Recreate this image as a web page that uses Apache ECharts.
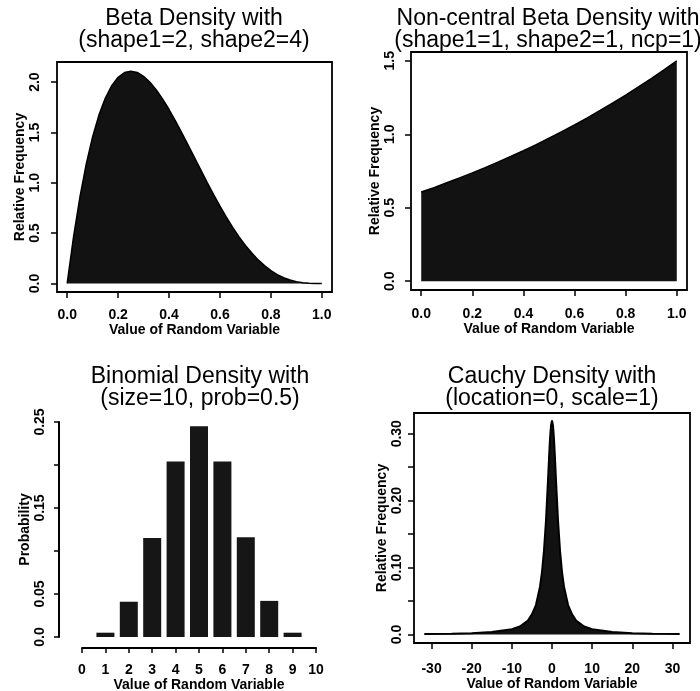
<!DOCTYPE html>
<html><head><meta charset="utf-8">
<script src="https://cdn.jsdelivr.net/npm/echarts@6/dist/echarts.min.js"></script>
<style>html,body{margin:0;padding:0;background:#fff}#c{width:700px;height:691px}</style>
</head><body><div id="c"></div>
<script>
// ---- data ----
const betaX = [0,0.025,0.05,0.075,0.1,0.125,0.15,0.175,0.2,0.225,0.25,0.275,0.3,0.325,0.35,0.375,0.4,0.425,0.45,0.475,0.5,0.525,0.55,0.575,0.6,0.625,0.65,0.675,0.7,0.725,0.75,0.775,0.8,0.825,0.85,0.875,0.9,0.925,0.95,0.975,1.0];
const betaY = [0,0.463,0.857,1.187,1.458,1.675,1.842,1.965,2.048,2.095,2.109,2.096,2.058,1.999,1.922,1.831,1.728,1.616,1.497,1.375,1.250,1.125,1.002,0.883,0.768,0.659,0.557,0.463,0.378,0.302,0.234,0.177,0.128,0.088,0.057,0.034,0.018,0.008,0.002,0.0003,0];
const ncbX = [0,0.05,0.1,0.15,0.2,0.25,0.3,0.35,0.4,0.45,0.5,0.55,0.6,0.65,0.7,0.75,0.8,0.85,0.9,0.95,1.0];
const ncbY = [0.607,0.637,0.670,0.703,0.737,0.773,0.810,0.849,0.889,0.930,0.974,1.018,1.064,1.112,1.162,1.213,1.267,1.322,1.379,1.439,1.500];
const binomX = [0,1,2,3,4,5,6,7,8,9,10];
const binomY = [0,0.005,0.041,0.115,0.204,0.245,0.204,0.116,0.042,0.005,0];
const cauchyX = [-31.8,-25,-20,-15,-10,-8,-6,-5,-4,-3,-2.5,-2,-1.5,-1,-0.75,-0.5,-0.25,0,0.25,0.5,0.75,1,1.5,2,2.5,3,4,5,6,8,10,15,20,25,31.8];
const cauchyY = [0.0008,0.0013,0.002,0.0036,0.008,0.012,0.021,0.030,0.044,0.071,0.093,0.125,0.170,0.230,0.262,0.292,0.312,0.320,0.312,0.292,0.262,0.230,0.170,0.125,0.093,0.071,0.044,0.030,0.021,0.012,0.008,0.0036,0.002,0.0013,0.0008];

// ---- ticks / labels ----
const unitTicks = [0,0.2,0.4,0.6,0.8,1.0];
const unitLabels = ['0.0','0.2','0.4','0.6','0.8','1.0'];
const betaYTicks = [0,0.5,1.0,1.5,2.0];
const betaYLabels = ['0.0','0.5','1.0','1.5','2.0'];
const ncbYTicks = [0,0.5,1.0,1.5];
const ncbYLabels = ['0.0','0.5','1.0','1.5'];
const binomXTicks = [0,1,2,3,4,5,6,7,8,9,10];
const binomXLabels = ['0','1','2','3','4','5','6','7','8','9','10'];
const binomYTicks = [0,0.05,0.10,0.15,0.20,0.25];
const binomYLabelVals = [0,0.05,0.15,0.25];
const binomYLabels = ['0.0','0.05','0.15','0.25'];
const cauchyXTicks = [-30,-20,-10,0,10,20,30];
const cauchyXLabels = ['-30','-20','-10','0','10','20','30'];
const cauchyYTicks = [0,0.05,0.10,0.15,0.20,0.25,0.30];
const cauchyYLabelVals = [0,0.10,0.20,0.30];
const cauchyYLabels = ['0.0','0.10','0.20','0.30'];

const titles = [
  'Beta Density with\n(shape1=2, shape2=4)',
  'Non-central Beta Density with\n(shape1=1, shape2=1, ncp=1)',
  'Binomial Density with\n(size=10, prob=0.5)',
  'Cauchy Density with\n(location=0, scale=1)'
];
const xName = 'Value of Random Variable';
const yNames = ['Relative Frequency','Relative Frequency','Probability','Relative Frequency'];

// ---- helpers ----
const FONT = '"Liberation Sans", Arial, Helvetica, sans-serif';
const zip = (a,b) => a.map((v,i)=>[v,b[i]]);
function lab(vals, labels){ return v => { const i = vals.findIndex(t => Math.abs(t - v) < 1e-9); return i < 0 ? '' : labels[i]; }; }
const tickStyle = {color:'#000', width:1.5};
const labStyle = {fontFamily:FONT, fontSize:14, fontWeight:'bold', color:'#000'};
const nameStyle = {fontFamily:FONT, fontSize:14, fontWeight:'bold', color:'#000'};

function xAx(gi, min, max, ticks, lvals, labels, margin, gap, extra){
  return Object.assign({
    type:'value', gridIndex:gi, min, max, name:xName, nameLocation:'middle', nameGap:gap,
    nameTextStyle:nameStyle, splitLine:{show:false}, axisLine:{show:false, onZero:false},
    axisTick:{show:true, inside:false, length:6, customValues:ticks, lineStyle:tickStyle},
    axisLabel:Object.assign({show:true, customValues:lvals, margin, formatter:lab(lvals,labels)}, labStyle)
  }, extra||{});
}
function yAx(gi, min, max, ticks, lvals, labels, name, margin, gap, extra){
  return Object.assign({
    type:'value', gridIndex:gi, min, max, name, nameLocation:'middle', nameGap:gap, nameRotate:90,
    nameTextStyle:nameStyle, splitLine:{show:false}, axisLine:{show:false, onZero:false},
    axisTick:{show:true, inside:false, length:6, customValues:ticks, lineStyle:tickStyle},
    axisLabel:Object.assign({show:true, rotate:90, customValues:lvals, margin, formatter:lab(lvals,labels)}, labStyle)
  }, extra||{});
}
function box(left, top, width, height, show){
  return {left, top, width, height, show, borderColor:'#000', borderWidth:1.8, backgroundColor:'transparent', containLabel:false, outerBoundsMode:'none'};
}
function titleAt(i, cx, top){
  return {text:titles[i], left:cx, top, textAlign:'center', padding:0, itemGap:0,
    textStyle:{fontFamily:FONT, fontSize:23, fontWeight:'normal', lineHeight:22, color:'#000'}};
}
const fill = '#121212';
function areaSeries(xi, xs, ys, w){
  return {type:'line', xAxisIndex:xi, yAxisIndex:xi, data:zip(xs,ys), symbol:'none', showSymbol:false,
    lineStyle:{color:'#000', width:w}, areaStyle:{color:fill, opacity:1}, silent:true};
}

const option = {
  animation:false,
  backgroundColor:'#fff',
  title:[ titleAt(0,194,8), titleAt(1,548,8), titleAt(2,200,366), titleAt(3,552,366) ],
  grid:[ box(57,62,275,230,true), box(411,52,276,238,true), box(82,422,234,215,false), box(414,413,276,230,true) ],
  xAxis:[
    xAx(0,-0.04,1.04,unitTicks,unitTicks,unitLabels,16,28),
    xAx(1,-0.04,1.04,unitTicks,unitTicks,unitLabels,17,30),
    xAx(2,0,10,binomXTicks,binomXTicks,binomXLabels,15,27,{offset:11, axisLine:{show:true, onZero:false, lineStyle:{color:'#000', width:2}}, axisTick:{show:true, length:5, customValues:binomXTicks, lineStyle:tickStyle}}),
    xAx(3,-34.37,34.37,cauchyXTicks,cauchyXTicks,cauchyXLabels,19,33)
  ],
  yAxis:[
    yAx(0,-0.085,2.20,betaYTicks,betaYTicks,betaYLabels,yNames[0],15,25),
    yAx(1,-0.06,1.56,ncbYTicks,ncbYTicks,ncbYLabels,yNames[1],14,24),
    yAx(2,0,0.25,binomYTicks,binomYLabelVals,binomYLabels,yNames[2],12,22,{offset:23, axisLine:{show:true, onZero:false, lineStyle:{color:'#000', width:2}}, axisTick:{show:true, length:5, customValues:binomYTicks, lineStyle:tickStyle}}),
    yAx(3,-0.0127,0.331,cauchyYTicks,cauchyYLabelVals,cauchyYLabels,yNames[3],10,25)
  ],
  series:[
    areaSeries(0, betaX, betaY, 1.5),
    areaSeries(1, ncbX, ncbY, 1.5),
    {type:'bar', xAxisIndex:2, yAxisIndex:2, data:zip(binomX,binomY), barWidth:18, itemStyle:{color:'#161616'}, silent:true},
    areaSeries(3, cauchyX, cauchyY, 2)
  ]
};
const chart = echarts.init(document.getElementById('c'), null, {renderer:'canvas'});
chart.setOption(option);
</script>
</body></html>
